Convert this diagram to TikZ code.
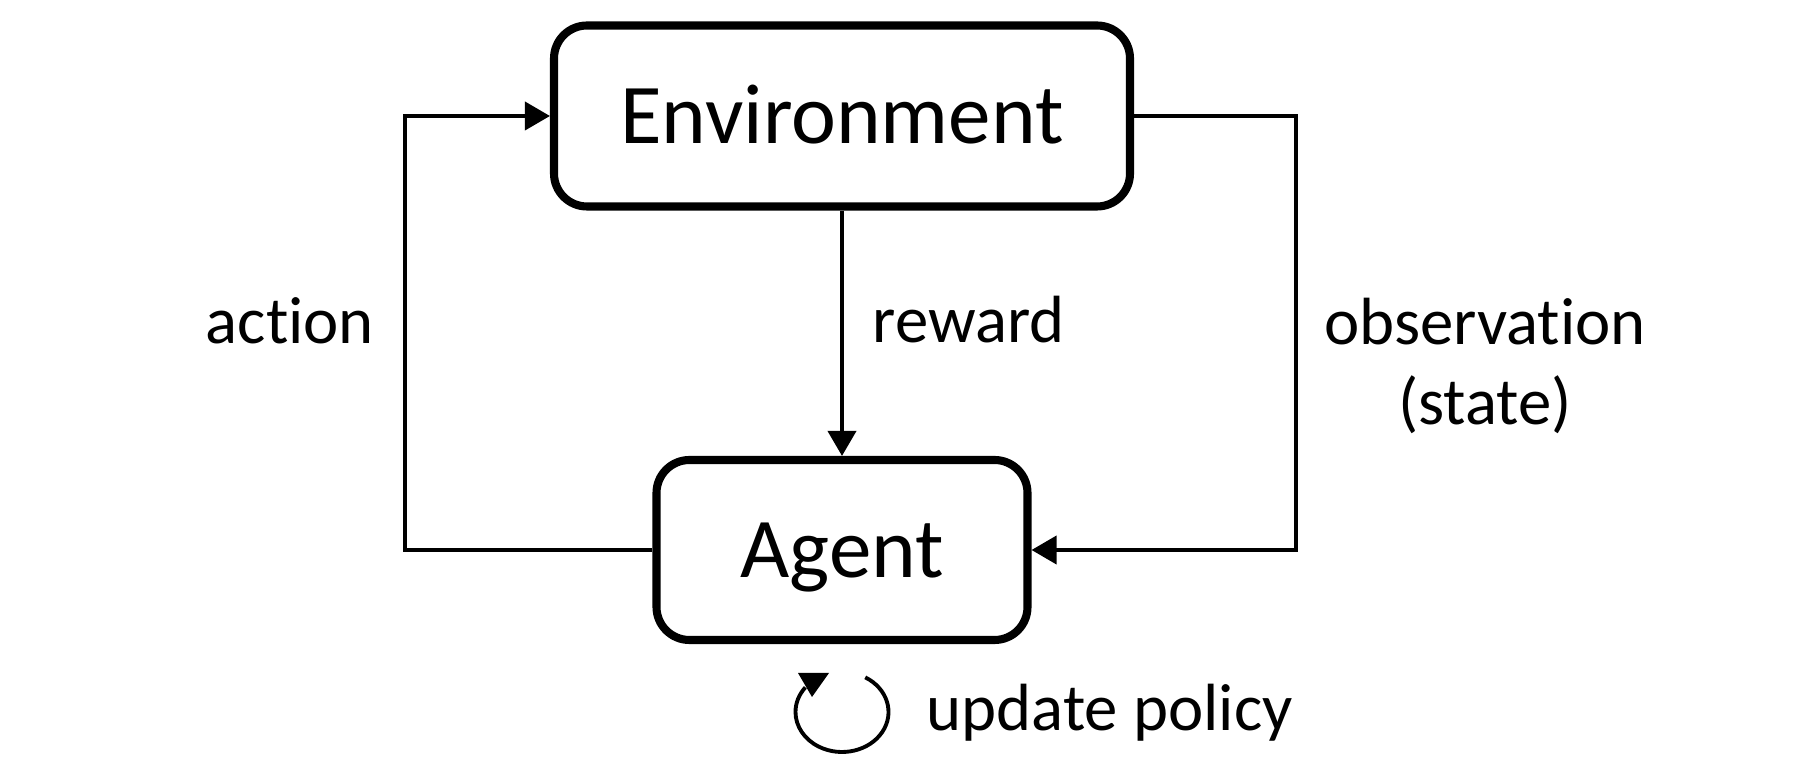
\documentclass[tikz,border=0pt]{standalone}
\usepackage{fontspec}
\setmainfont{Carlito}[RawFeature=-liga]
\usetikzlibrary{arrows.meta}
\tikzset{
  block/.style={draw, line width=2.3pt, rounded corners=0.33cm,
    font=\fontsize{24.2}{29}\selectfont, text height=0.55cm, text depth=0pt},
  flow/.style={line width=1.1pt, -{Triangle[length=0.25cm,width=0.28cm]}},
  lbl/.style={inner sep=0pt, font=\fontsize{19}{22.8}\selectfont},
}
\begin{document}
\begin{tikzpicture}
  \useasboundingbox (0,0) rectangle (18.18,7.68);
  \node[block, minimum width=5.76cm, minimum height=1.81cm] (env) at ({8.42}, 6.52) {Environment};
  \node[block, minimum width=3.71cm, minimum height=1.80cm] (agent) at ({8.42}, 2.18) {Agent};
  \coordinate (actL) at ({4.05}, 0);
  \coordinate (obsR) at ({12.96}, 0);
  \draw[flow] (agent.west) -| (actL |- env.west) -- (env.west);
  \draw[flow] (env.east) -| (obsR |- agent.east) -- (agent.east);
  \draw[flow] (env.south) -- (agent.north);
  \node[lbl, anchor=base] (act) at ({2.90}, 4.24) {action};
  \node[lbl, anchor=base west] (rew) at ({8.72}, 4.25) {reward};
  \node[lbl, anchor=base] (obs) at ({14.85}, 4.23) {observation};
  \node[lbl, anchor=base] (st) at ({14.85}, 3.43) {(state)};
  % update loop
  \coordinate (loopc) at ({8.42}, 0.56);
  \draw[line width=1.1pt] (loopc) ++(60:0.465 and 0.40)
    arc[start angle=60, end angle=-218, x radius=0.465, y radius=0.40];
  \fill ({7.98}, 0.95) -- ({8.29}, 0.95) -- ({8.12}, 0.71) -- cycle;
  \node[lbl, anchor=base west] (upd) at ({9.26}, 0.37) {update policy};
\end{tikzpicture}
\end{document}
